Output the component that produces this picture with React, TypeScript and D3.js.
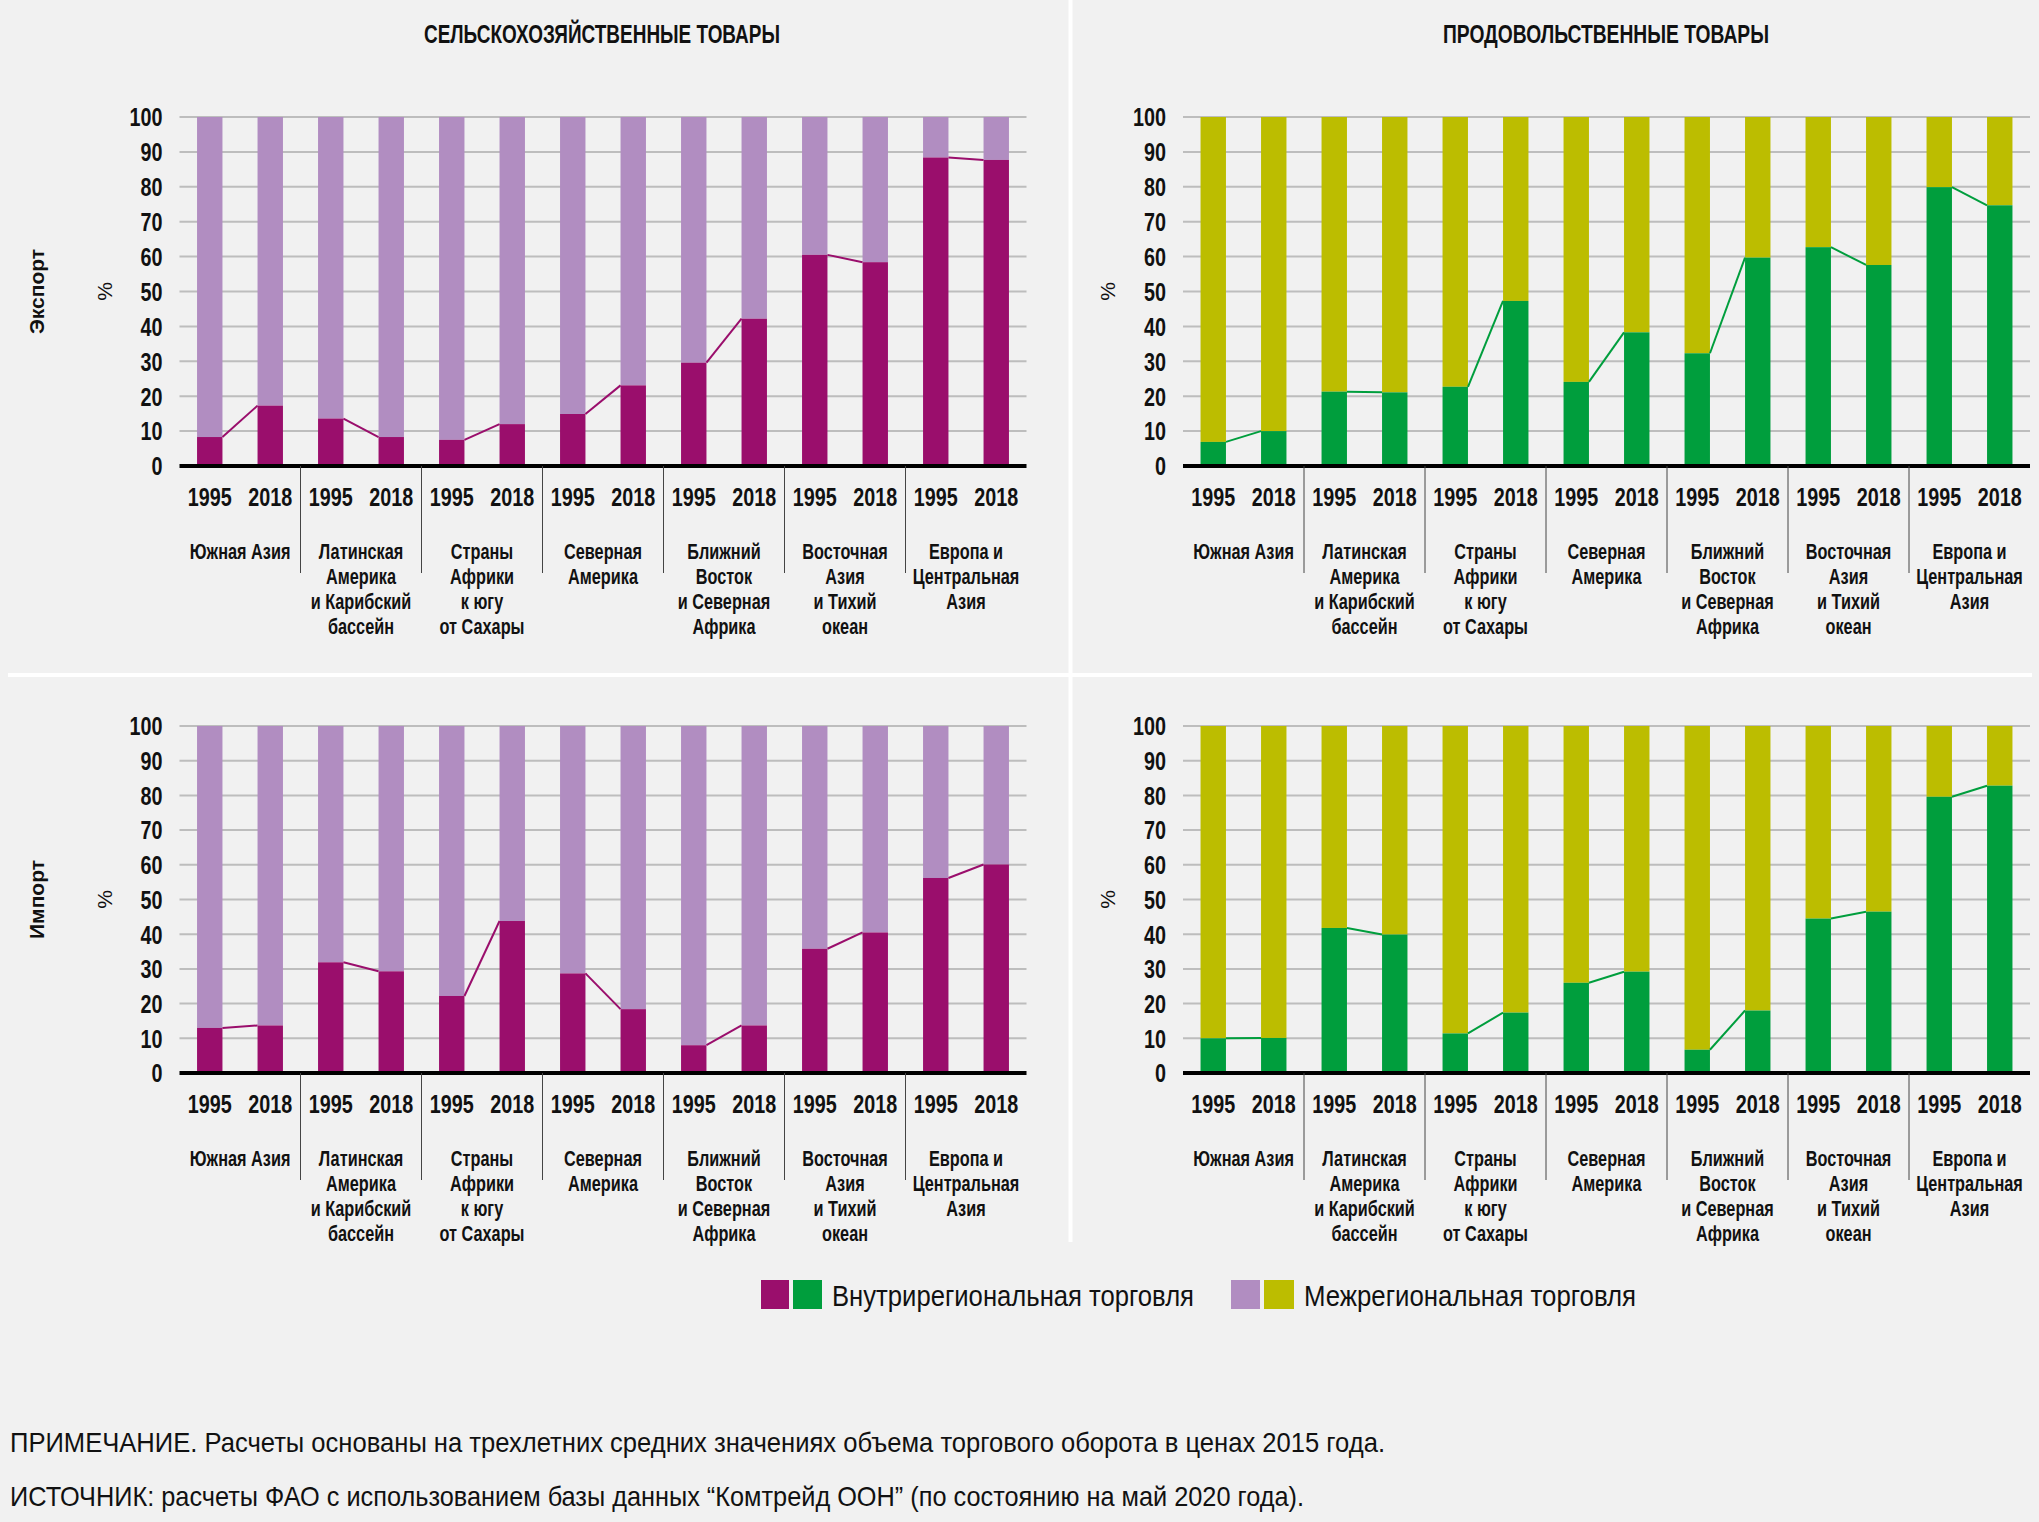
import React from 'react';
import * as d3 from 'd3';

// regions (line-broken as in the source) and years
const regionLines = [
  ['Южная Азия'],
  ['Латинская', 'Америка', 'и Карибский', 'бассейн'],
  ['Страны', 'Африки', 'к югу', 'от Сахары'],
  ['Северная', 'Америка'],
  ['Ближний', 'Восток', 'и Северная', 'Африка'],
  ['Восточная', 'Азия', 'и Тихий', 'океан'],
  ['Европа и', 'Центральная', 'Азия'],
];
const years = ['1995', '2018'];
const yTicks = [0, 10, 20, 30, 40, 50, 60, 70, 80, 90, 100];

// intraregional share, % (remainder = interregional)
const agriExport1995 = [8.3, 13.6, 7.5, 14.9, 29.6, 60.5, 88.4];
const agriExport2018 = [17.3, 8.3, 12.0, 23.1, 42.2, 58.4, 87.7];
const foodExport1995 = [6.9, 21.3, 22.7, 24.1, 32.3, 62.7, 79.9];
const foodExport2018 = [10.0, 21.1, 47.3, 38.3, 59.7, 57.6, 74.7];
const agriImport1995 = [13.0, 31.9, 22.2, 28.7, 8.0, 35.8, 56.2];
const agriImport2018 = [13.7, 29.3, 43.8, 18.4, 13.7, 40.5, 60.1];
const foodImport1995 = [10.0, 41.8, 11.4, 26.0, 6.7, 44.5, 79.6];
const foodImport2018 = [10.1, 39.9, 17.4, 29.2, 18.0, 46.5, 82.8];

const titles = ['СЕЛЬСКОХОЗЯЙСТВЕННЫЕ ТОВАРЫ', 'ПРОДОВОЛЬСТВЕННЫЕ ТОВАРЫ'];
const rowLabels = ['Экспорт', 'Импорт'];
const legendLabels = ['Внутрирегиональная торговля', 'Межрегиональная торговля'];
const note = 'ПРИМЕЧАНИЕ. Расчеты основаны на трехлетних средних значениях объема торгового оборота в ценах 2015 года.';
const source = 'ИСТОЧНИК: расчеты ФАО с использованием базы данных “Комтрейд ООН” (по состоянию на май 2020 года).';

const PURPLE = '#9a0e6c';
const LAVENDER = '#b18dc1';
const GREEN = '#009e3d';
const OLIVE = '#bcbd00';

const SANS = "'Liberation Sans', Arial, sans-serif";

// condensed text: regular sans squeezed horizontally
function CText({ x, y, sx = 0.8, anchor = 'start', size, bold = false, children }: any) {
  return (
    <text transform={`translate(${x},${y}) scale(${sx},1)`} dy="0.36em" textAnchor={anchor}
      fontFamily={SANS} fontWeight={bold ? 'bold' : 'normal'} fontSize={size} fill="#111">{children}</text>
  );
}

interface PanelProps {
  x0: number;
  x1: number;
  yTop: number;
  yBottom: number;
  v1995: number[];
  v2018: number[];
  intra: string;
  inter: string;
  rowLabel?: string;
}

function Panel({ x0, x1, yTop, yBottom, v1995, v2018, intra, inter, rowLabel }: PanelProps) {
  const names = regionLines.map(r => r.join(' '));
  const xGroup = d3.scaleBand<string>().domain(names).range([x0, x1]);
  const xYear = d3.scaleBand<string>().domain(years).range([0, xGroup.bandwidth()])
    .paddingInner(0.58).paddingOuter(0.29);
  const y = d3.scaleLinear().domain([0, 100]).range([yBottom, yTop]);
  const bw = xYear.bandwidth();

  return (
    <g>
      {/* Grid */}
      {yTicks.filter(t => t > 0).map(t => (
        <line key={t} x1={x0} x2={x1} y1={y(t)} y2={y(t)} stroke="#bdbdbd" strokeWidth={2} />
      ))}

      {/* Y tick labels */}
      {yTicks.map(t => (
        <CText key={t} x={x0 - 17} y={y(t)} anchor="end" sx={0.76} size={26} bold>{t}</CText>
      ))}

      <text transform={`translate(${x0 - 75},${(yTop + yBottom) / 2}) rotate(-90)`} textAnchor="middle"
        dy="0.35em" fontFamily={SANS} fontSize={21} fill="#111">%</text>

      {rowLabel && (
        <text transform={`translate(37,${(yTop + yBottom) / 2}) rotate(-90)`} textAnchor="middle"
          dy="0.35em" fontFamily={SANS} fontWeight="bold" fontSize={21} fill="#111">{rowLabel}</text>
      )}

      {/* Bars */}
      {names.map((name, i) => {
        const gx = xGroup(name) as number;
        const vals = [v1995[i], v2018[i]];
        return (
          <g key={name}>
            {years.map((yr, j) => {
              const bx = gx + (xYear(yr) as number);
              return (
                <g key={yr}>
                  <rect x={bx} y={y(100)} width={bw} height={y(vals[j]) - y(100)} fill={inter} />
                  <rect x={bx} y={y(vals[j])} width={bw} height={y(0) - y(vals[j])} fill={intra} />
                </g>
              );
            })}
            <line x1={gx + (xYear('1995') as number) + bw} y1={y(vals[0])}
              x2={gx + (xYear('2018') as number)} y2={y(vals[1])}
              stroke={intra} strokeWidth={2} />
          </g>
        );
      })}

      {/* Axis */}
      <line x1={x0} x2={x1} y1={y(0)} y2={y(0)} stroke="#000" strokeWidth={4} />

      {/* Group separators */}
      {names.slice(1).map(name => {
        const gx = xGroup(name) as number;
        return <line key={name} x1={gx} x2={gx} y1={y(0)} y2={y(0) + 107} stroke="#444" strokeWidth={1} />;
      })}

      {/* Year labels and region labels */}
      {names.map((name, i) => {
        const gx = xGroup(name) as number;
        return (
          <g key={name}>
            {years.map(yr => (
              <CText key={yr} x={gx + (xYear(yr) as number) + bw / 2} y={y(0) + 31}
                anchor="middle" sx={0.76} size={26} bold>{yr}</CText>
            ))}
            {regionLines[i].map((ln, k) => (
              <CText key={k} x={gx + xGroup.bandwidth() / 2} y={y(0) + 85 + k * 25}
                anchor="middle" sx={0.74} size={22} bold>{ln}</CText>
            ))}
          </g>
        );
      })}
    </g>
  );
}

export default function App() {
  const W = 2039;
  const H = 1522;
  const left = { x0: 179.5, x1: 1026.5 };
  const right = { x0: 1183, x1: 2030 };
  const top = { yTop: 117, yBottom: 466 };
  const bottom = { yTop: 726, yBottom: 1073 };

  return (
    <svg width={W} height={H} style={{ position: 'absolute', left: 0, top: 0, display: 'block' }}>
      <rect width={W} height={H} fill="#f1f1f1" />
      <line x1={1070.5} x2={1070.5} y1={0} y2={1242} stroke="#fff" strokeWidth={4} />
      <line x1={8} x2={2032} y1={675} y2={675} stroke="#fff" strokeWidth={4} />

      <text x={602} y={34} dy="0.36em" textAnchor="middle" fontFamily={SANS} fontWeight="bold"
        fontSize={26} fill="#111" textLength={356} lengthAdjust="spacingAndGlyphs">{titles[0]}</text>
      <text x={1606} y={34} dy="0.36em" textAnchor="middle" fontFamily={SANS} fontWeight="bold"
        fontSize={26} fill="#111" textLength={326} lengthAdjust="spacingAndGlyphs">{titles[1]}</text>

      <Panel {...left} {...top} v1995={agriExport1995} v2018={agriExport2018} intra={PURPLE} inter={LAVENDER} rowLabel={rowLabels[0]} />
      <Panel {...right} {...top} v1995={foodExport1995} v2018={foodExport2018} intra={GREEN} inter={OLIVE} />
      <Panel {...left} {...bottom} v1995={agriImport1995} v2018={agriImport2018} intra={PURPLE} inter={LAVENDER} rowLabel={rowLabels[1]} />
      <Panel {...right} {...bottom} v1995={foodImport1995} v2018={foodImport2018} intra={GREEN} inter={OLIVE} />

      {/* Legend */}
      <rect x={761} y={1280} width={28} height={29} fill={PURPLE} />
      <rect x={793} y={1280} width={29} height={29} fill={GREEN} />
      <text x={832} y={1295} dy="0.36em" fontFamily={SANS} fontSize={30} fill="#111"
        textLength={362} lengthAdjust="spacingAndGlyphs">{legendLabels[0]}</text>
      <rect x={1231} y={1280} width={29} height={29} fill={LAVENDER} />
      <rect x={1264} y={1280} width={30} height={29} fill={OLIVE} />
      <text x={1304} y={1295} dy="0.36em" fontFamily={SANS} fontSize={30} fill="#111"
        textLength={332} lengthAdjust="spacingAndGlyphs">{legendLabels[1]}</text>

      {/* Notes */}
      <text x={10} y={1442} dy="0.36em" fontFamily={SANS} fontSize={28} fill="#111"
        textLength={1375} lengthAdjust="spacingAndGlyphs">{note}</text>
      <text x={10} y={1496} dy="0.36em" fontFamily={SANS} fontSize={28} fill="#111"
        textLength={1294} lengthAdjust="spacingAndGlyphs">{source}</text>
    </svg>
  );
}
